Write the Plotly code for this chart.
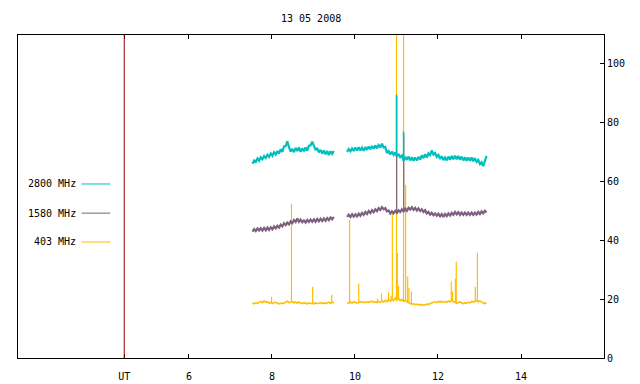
import plotly.graph_objects as go

title_text = "13 05 2008"
series_names = ["2800 MHz", "1580 MHz", "403 MHz"]
series_colors = ["#00BFBF", "#7D5F80", "#FFBF00"]

# time sampling of the two observing segments (UT hours)
seg1_start, seg2_start, step = 7.53, 9.81, 0.04

cyan_seg1 = [66.0, 67.1, 66.6, 67.8, 67.0, 68.2, 67.5, 68.6, 67.9, 69.0,
             68.3, 69.5, 68.7, 69.9, 69.1, 70.3, 69.4, 70.9, 70.0, 71.9,
             72.0, 73.6, 71.6, 70.1, 71.0, 69.9, 71.4, 70.3, 71.5, 70.0,
             71.2, 70.2, 71.5, 70.4, 72.1, 72.2, 73.5, 71.9, 70.6, 71.3,
             69.8, 70.7, 69.4, 70.5, 69.2, 70.3, 68.9, 70.2, 69.3, 70.3]
cyan_seg2 = [70.0, 71.0, 70.2, 71.2, 70.3, 71.5, 70.5, 71.6, 70.5, 71.4,
             70.4, 71.6, 70.7, 71.8, 70.9, 72.0, 71.1, 72.2, 71.2, 72.3,
             71.5, 72.8, 71.5, 71.7, 69.6, 70.3, 69.1, 70.1, 69.0, 69.8,
             68.4, 69.3, 68.2, 68.8, 67.0, 68.3, 67.3, 68.4, 67.1, 68.2,
             67.0, 68.1, 67.1, 68.3, 67.4, 68.8, 67.9, 69.2, 68.1, 69.5,
             68.9, 70.5, 69.1, 69.6, 68.3, 69.0, 67.6, 68.5, 67.2, 68.1,
             67.1, 68.4, 67.3, 68.6, 67.5, 68.7, 67.5, 68.6, 67.3, 68.4,
             67.1, 68.2, 67.0, 68.1, 67.0, 68.1, 66.8, 67.9, 66.6, 67.3,
             65.9, 66.5, 65.2, 67.2, 68.6]

purple_seg1 = [42.9, 43.8, 43.1, 44.0, 43.3, 44.1, 43.3, 44.2, 43.4, 44.3,
               43.5, 44.4, 43.7, 44.7, 44.0, 44.9, 44.3, 45.3, 44.7, 45.8,
               45.1, 46.0, 45.4, 46.4, 45.8, 46.9, 46.2, 47.4, 46.3, 47.0,
               46.1, 46.7, 46.0, 46.9, 46.2, 47.0, 46.3, 47.1, 46.3, 47.2,
               46.4, 47.3, 46.5, 47.4, 46.6, 47.5, 46.8, 47.7, 47.1, 47.9]
purple_seg2 = [47.9, 48.7, 47.9, 48.8, 48.0, 48.8, 48.1, 49.0, 48.3, 49.3,
               48.6, 49.6, 48.9, 49.9, 49.2, 50.2, 49.5, 50.5, 49.9, 50.9,
               50.3, 51.2, 50.5, 50.9, 49.8, 50.1, 49.1, 49.8, 49.1, 50.0,
               49.3, 50.2, 49.6, 50.5, 49.8, 50.7, 50.0, 51.0, 50.4, 51.2,
               50.3, 51.0, 50.1, 50.8, 49.9, 50.5, 49.6, 50.2, 49.1, 49.6,
               48.7, 49.3, 48.5, 49.1, 48.3, 49.0, 48.1, 48.9, 47.9, 48.9,
               48.2, 49.1, 48.4, 49.3, 48.6, 49.6, 48.8, 49.5, 48.6, 49.4,
               48.6, 49.4, 48.6, 49.4, 48.6, 49.4, 48.6, 49.4, 48.7, 49.6,
               48.9, 49.8, 49.1, 50.0, 49.4]

orange_seg1 = [18.7, 18.4, 18.8, 18.5, 18.9, 19.2, 18.8, 19.4, 18.9, 19.1,
               18.6, 18.9, 18.5, 18.7, 19.0, 18.6, 18.4, 18.6, 18.5, 18.7,
               18.9, 19.3, 18.8, 19.0, 19.2, 18.7, 19.1, 18.6, 19.0, 18.7,
               18.5, 18.8, 18.6, 18.4, 18.7, 18.5, 18.6, 18.4, 18.7, 18.5,
               18.6, 18.8, 18.5, 18.7, 18.5, 18.6, 18.9, 18.6, 19.0, 18.7]
orange_seg2 = [18.8, 18.6, 19.0, 18.7, 19.1, 18.9, 18.6, 18.8, 19.2, 18.9,
               19.0, 18.8, 19.1, 18.9, 19.0, 19.3, 18.9, 19.1, 18.8, 19.2,
               18.9, 19.4, 19.0, 19.6, 19.1, 19.8, 19.3, 20.1, 19.4, 20.4,
               19.6, 20.2, 19.5, 19.9, 19.2, 19.6, 19.1, 18.8, 18.5, 18.3,
               18.4, 18.1, 18.3, 18.0, 18.2, 17.9, 18.1, 18.0, 18.3, 18.2,
               18.5, 18.7, 18.9, 19.1, 18.8, 19.2, 19.0, 19.3, 18.9, 19.1,
               19.0, 19.3, 19.1, 19.5, 19.2, 18.9, 18.6, 18.8, 19.1, 18.7,
               18.5, 18.8, 18.6, 18.9, 18.7, 19.2, 19.0, 19.3, 19.5, 19.1,
               19.4, 19.0, 18.8, 18.5, 18.7]

# short-lived bursts (impulses)
cyan_spike_t = [11.00, 11.17]
cyan_spike_v = [89.4, 76.9]
purple_spike_t = [11.005, 11.175]
purple_spike_v = [89.0, 76.0]
orange_spike_t = [7.99, 8.47, 8.98, 9.44, 9.87, 10.09, 10.54, 10.64, 10.81, 10.87,
                  10.90, 11.00, 11.02, 11.05, 11.17, 11.22, 11.27, 11.30, 11.36,
                  12.32, 12.35, 12.42, 12.44, 12.90, 12.95]
orange_spike_v = [20.8, 52.4, 24.2, 21.5, 46.9, 25.3, 20.1, 21.9, 22.3, 21.1,
                  49.2, 130.0, 35.7, 24.5, 130.0, 58.8, 27.7, 23.8, 22.6,
                  26.0, 22.6, 26.9, 32.7, 24.2, 35.8]

ut_marker = 4.44
x_tickvals = [ut_marker, 6, 8, 10, 12, 14]
x_ticktext = ["UT", "6", "8", "10", "12", "14"]
y_tickvals = [0, 20, 40, 60, 80, 100]
x_range = [1.88, 16.0]
y_range = [0, 109.7]

FONT = "DejaVu Sans Mono"


def series(seg1, seg2):
    xs = [seg1_start + i * step for i in range(len(seg1))] + [None] + \
         [seg2_start + i * step for i in range(len(seg2))]
    ys = list(seg1) + [None] + list(seg2)
    return xs, ys


def spikes(ts, vs, seg1, seg2):
    allx = [seg1_start + i * step for i in range(len(seg1))] + \
           [seg2_start + i * step for i in range(len(seg2))]
    ally = list(seg1) + list(seg2)
    xs, ys = [], []
    for t, v in zip(ts, vs):
        j = min(range(len(allx)), key=lambda k: abs(allx[k] - t))
        xs += [t, t, None]
        ys += [ally[j], v, None]
    return xs, ys


fig = go.Figure()

order = [
    (orange_seg1, orange_seg2, orange_spike_t, orange_spike_v, series_colors[2], 1.6, 1.2),
    (purple_seg1, purple_seg2, purple_spike_t, purple_spike_v, series_colors[1], 2.2, 1.2),
    (cyan_seg1, cyan_seg2, cyan_spike_t, cyan_spike_v, series_colors[0], 2.2, 1.5),
]
for s1, s2, st, sv, col, w, sw in order:
    x, y = series(s1, s2)
    fig.add_trace(go.Scatter(x=x, y=y, mode="lines", line=dict(color=col, width=w),
                             showlegend=False, hoverinfo="skip", connectgaps=False))
    sx, sy = spikes(st, sv, s1, s2)
    fig.add_trace(go.Scatter(x=sx, y=sy, mode="lines", line=dict(color=col, width=sw),
                             showlegend=False, hoverinfo="skip", connectgaps=False))

# UT marker line
fig.add_shape(type="line", xref="x", yref="paper", x0=ut_marker, x1=ut_marker, y0=0, y1=1,
              line=dict(color="#990000", width=1))

# custom legend (text right, sample line to the right)
legend_y = [59.1, 49.2, 39.4]
for name, col, ly in zip(series_names, series_colors, legend_y):
    fig.add_annotation(x=3.32, y=ly, xref="x", yref="y", text=name, showarrow=False,
                       xanchor="right", yanchor="middle",
                       font=dict(family=FONT, size=10, color="black"))
    fig.add_shape(type="line", xref="x", yref="y", x0=3.413, x1=4.104, y0=ly, y1=ly,
                  line=dict(color=col, width=1))

fig.add_annotation(x=0.5, y=1.051, xref="paper", yref="paper", text=title_text,
                   showarrow=False, xanchor="center", yanchor="middle",
                   font=dict(family=FONT, size=10, color="black"))

# the page body has an 8px margin, so the figure is sized/offset to compensate
fig.update_layout(
    width=632, height=376,
    margin=dict(l=10, r=35.5, t=27, b=25.7, autoexpand=False),
    paper_bgcolor="white", plot_bgcolor="white",
    font=dict(family=FONT, size=10, color="black"),
    showlegend=False,
    xaxis=dict(range=x_range, tickvals=x_tickvals, ticktext=x_ticktext,
               ticks="inside", ticklen=4, tickcolor="black", showgrid=False,
               zeroline=False, showline=True, linecolor="black", linewidth=1,
               mirror="ticks", ticklabelstandoff=9),
    yaxis=dict(range=y_range, tickvals=y_tickvals, side="right",
               ticks="inside", ticklen=4, tickcolor="black", showgrid=False,
               zeroline=False, showline=True, linecolor="black", linewidth=1,
               mirror=True),
)

fig.write_html("out.html")
